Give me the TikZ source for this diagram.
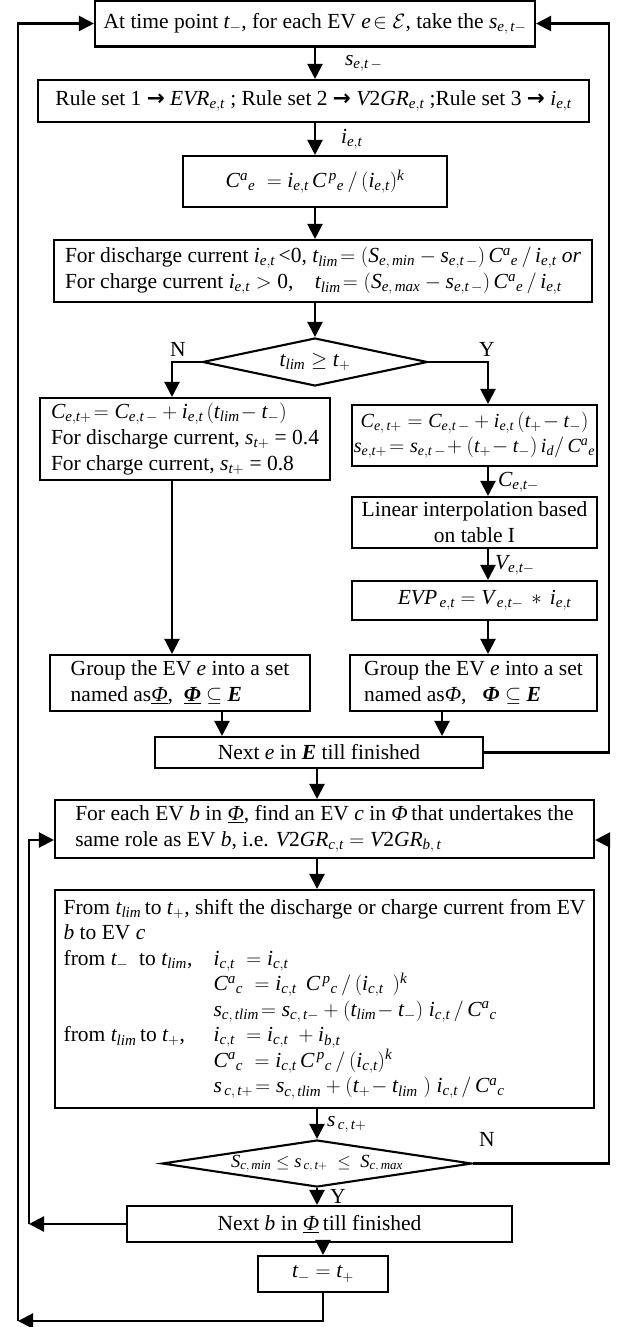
\documentclass[tikz,border=0pt]{standalone}
\usepackage{mathspec}
\setmainfont{Liberation Serif}
\setmathsfont(Digits,Latin)[Scale=1]{Liberation Serif}
\newfontfamily\arrowfont{DejaVu Sans}
\usetikzlibrary{arrows.meta,shapes.geometric}
\newcommand{\ruleto}{{\arrowfont\bfseries →}}
\newcommand{\uPhi}{\underline{\textit{Φ}}}
\newcommand{\bPhi}{\textbf{\textit{Φ}}}
\newcommand{\bE}{\textbf{\textit{E}}}

\begin{document}
\begin{tikzpicture}[x=1pt, y=-1pt, line width=2.1pt,
    font=\fontsize{21.5}{26}\selectfont,
    arr/.style={line width=2.2pt, -{Triangle[length=15pt,width=15pt]}}]
    \useasboundingbox (0,0) rectangle (621,1327);
    \begin{scope}[every node/.style={draw, rectangle, inner sep=3pt, align=left}]
        \node[minimum width=440pt, minimum height=46pt] (1) at (315,23.5) {At time point $t_{-}$, for each EV $e\!\in\mathcal{E}$, take the $s_{e,\,t-}$};
        \node[minimum width=551pt, minimum height=42pt] (2) at (313.5,101) {Rule set 1 \ruleto\ $EVR_{e,t}$ ; Rule set 2 \ruleto\ $V2GR_{e,t}$ ;Rule set 3 \ruleto\ $i_{e,t}$};
        \node[minimum width=264pt, minimum height=51pt] (3) at (315,181.5) {$C^{a}{}_{e}\;= i_{e,t}\,C^{\,p}{}_{e}\,/\,(i_{e,t})^{k}$};
        \node[minimum width=538pt, minimum height=62pt] (4) at (323,271) {For discharge current $i_{e,t}$\,<0, $t_{lim}\!= (S_{e,\,min} - s_{e,t\,-})\, C^{a}{}_{e}\,/\,i_{e,t}$ \textit{or}\\For charge current $i_{e,t} > 0$,\quad $t_{lim}\!= (S_{e,\,max} - s_{e,t\,-})\, C^{a}{}_{e}\,/\,i_{e,t}$};
        \node[minimum width=290pt, minimum height=82pt] (5) at (185,439) {$C_{e,t+}\!= C_{e,t\,-} + i_{e,t}\,(t_{lim}\!- t_{-})$\\For discharge current, $s_{t+}$ = 0.4\\For charge current, $s_{t+}$ = 0.8};
        \node[minimum width=245pt, minimum height=61pt, align=center, inner xsep=1pt, font=\fontsize{20}{25}\selectfont] (6) at (474.5,435.5) {$C_{e,\,t+} = C_{e,t\,-} + i_{e,t}\,(t_{+}\!- t_{-})$\\$s_{e,t+}\!= s_{e,t\,-}\! + (t_{+}\!- t_{-})\, i_{d}/\,C^{a}{}_{e}$};
        \node[minimum width=245pt, minimum height=51pt, align=center] (7) at (474.5,522.5) {Linear interpolation based\\on table I};
        \node[minimum width=245pt, minimum height=39pt] (8) at (474.5,600.5) {\hspace*{20pt}$EVP_{\,e,t} = V_{\,e,t-}\,*\,i_{e,t}$};
        \node[minimum width=260pt, minimum height=56pt] (9) at (180,683) {Group the EV $e$ into a set\\named as\uPhi,\ \ \underline{\bPhi} $\subseteq$ \bE};
        \node[minimum width=247pt, minimum height=56pt] (10) at (473.5,683) {Group the EV $e$ into a set\\named as\textit{Φ},\ \ \ \bPhi\ $\subseteq$ \bE};
        \node[minimum width=328pt, minimum height=31pt] (11) at (319,752.5) {Next $e$ in \bE\ till finished};
        \node[minimum width=539pt, minimum height=58pt] (12) at (324.5,829) {For each EV $b$ in \uPhi, find an EV $c$ in \textit{Φ}\,that undertakes the\\same role as EV $b$, i.e. $V2GR_{c,t} = V2GR_{b,\,t}$};
        \node[minimum width=539pt, minimum height=218pt, font=\fontsize{21.5}{25.5}\selectfont] (13) at (324.5,999) {From $t_{lim}$\,to $t_{+}$, shift the discharge or charge current from EV\\
            $b$ to EV $c$\\
            \makebox[150pt][l]{from $t_{-}$\ \ to $t_{lim}$,}$i_{c,t}\;= i_{c,t}$\\
            \hspace*{150pt}$C^{a}{}_{c}\;= i_{c,t}\;\, C^{\,p}{}_{c}\,/\,(i_{c,t}\;\,)^{k}$\\
            \hspace*{150pt}$s_{c,\,tlim}\!= s_{c,\,t-} + (t_{lim}\!- t_{-})\; i_{c,t}\,/\,C^{a}{}_{c}$\\
            \makebox[150pt][l]{from $t_{lim}$\,to $t_{+}$,}$i_{c,t}\;= i_{c,t}\;+ i_{b,t}$\\
            \hspace*{150pt}$C^{a}{}_{c}\;= i_{c,t}\,C^{\,p}{}_{c}\,/\,(i_{c,t})^{k}$\\
            \hspace*{150pt}$s_{\,c,\,t+}\!= s_{c,\,tlim} + (t_{+}\!- t_{lim}\;)\; i_{c,t}\,/\,C^{a}{}_{c}$};
        \node[minimum width=385pt, minimum height=36pt] (14) at (319.5,1224) {Next $b$ in \uPhi\,till finished};
        \node[minimum width=130pt, minimum height=36pt] (15) at (323,1274) {$t_{-} = t_{+}$};
        \node[diamond, minimum width=225pt, minimum height=48pt, inner sep=0pt] (d1) at (315,362) {};
        \node[diamond, minimum width=310pt, minimum height=47pt, inner sep=0pt] (d2) at (317,1163.5) {};
    \end{scope}
    % texts inside the two decisions
    \node (t1) at (d1) {$t_{lim} \geq t_{+}$};
    \node[font=\fontsize{18.5}{22}\selectfont] (t2) at (d2) {$S_{c,\,min} \leq s_{\,c,\,t+} \;\leq\; S_{c,\,max}$};
    % labels on the arrows
    \begin{scope}[every node/.style={anchor=west, inner sep=0pt}]
        \node (s1) at (344,63) {$s_{e,t\,-}$};
        \node (s2) at (340,139) {$i_{e,t}$};
        \node (s3) at (497,482) {$C_{e,t-}$};
        \node (s4) at (494,565) {$V_{e,t-}$};
        \node (s5) at (326,1124) {$s_{\,c,\,t+}$};
        \node (n1) at (169,349) {N};
        \node (y1) at (478,349) {Y};
        \node (n2) at (478,1139) {N};
        \node (y2) at (329,1196) {Y};
    \end{scope}
    % straight arrows down the chart
    \draw[arr] (1.south -| 3) -- (3 |- 2.north);
    \draw[arr] (2.south -| 3) -- (3.north);
    \draw[arr] (3) -- (3 |- 4.north);
    \draw[arr] (4.south -| d1) -- (d1.north);
    \draw[arr] ([xshift=-13pt]5.south) -- ([xshift=-13pt]5.south |- 9.north);
    \draw[arr] ([xshift=13.5pt]6.south) -- ([xshift=13.5pt]7.north);
    \draw[arr] ([xshift=13.5pt]7.south) -- ([xshift=13.5pt]8.north);
    \draw[arr] ([xshift=13.5pt]8.south) -- ([xshift=13.5pt]8.south |- 10.north);
    \draw[arr] ([xshift=42pt]9.south) -- ([xshift=42pt]9.south |- 11.north);
    \draw[arr] ([xshift=-31.5pt]10.south) -- ([xshift=-31.5pt]10.south |- 11.north);
    \draw[arr] (11.south -| d2) -- (d2 |- 12.north);
    \draw[arr] (12.south -| d2) -- (d2 |- 13.north);
    \draw[arr] (13.south -| d2) -- (d2.north);
    \draw[arr] (d2.south) -- (d2 |- 14.north);
    \draw[arr] (14.south -| 15) -- (15.north);
    % the two branches of the first decision
    \draw[arr] (d1.west) -| ([xshift=-13pt]5.north);
    \draw[arr] (d1.east) -| ([xshift=13.5pt]6.north);
    % loops back
    \coordinate (r1) at (609,23.5);
    \coordinate (r2) at (609,1163.5);
    \coordinate (l1) at (29,1224);
    \coordinate (l2) at (18,1321);
    \draw[arr] (11.east) -| (r1) -- (1.east);
    \draw[arr] (d2.east) -- (r2) |- ([yshift=-11pt]12.east);
    \draw[arr] (14.west) -- (l1);
    \draw[arr] (l1) |- ([yshift=-11pt]12.west);
    \draw[arr] (15.south) |- (l2);
    \draw[arr] (l2) |- (1.west);
\end{tikzpicture}
\end{document}
